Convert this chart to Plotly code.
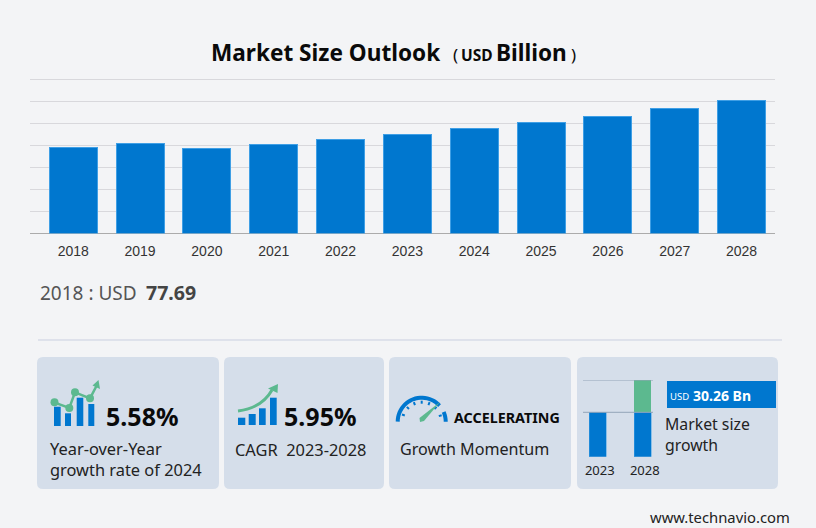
import math
import plotly.graph_objects as go

W = 816
H = 528

years = ['2018', '2019', '2020', '2021', '2022', '2023', '2024', '2025', '2026', '2027', '2028']
market_size = [77.69, 81.3, 77.4, 81.2, 85.5, 90.2, 95.2, 100.6, 106.5, 113.1, 120.46]

mini_years = ['2023', '2028']
mini_base = [90.2, 90.2]
mini_growth = [0, 30.26]

BG = '#F3F4F6'
CARD = '#D5DEEA'
BLUE = '#0077CF'
GREEN = '#5CB98F'
UI_FONT = 'Noto Sans'


def fx(px):
    return px / W


def fy(px):
    return 1 - px / H


def pts(points, close=False):
    # pixel points -> svg path in paper coords
    d = 'M ' + ' L '.join(f'{fx(x):.5f},{fy(y):.5f}' for x, y in points)
    return d + (' Z' if close else '')


def round_rect(x0, y0, x1, y1, r=6):
    return (f'M {fx(x0 + r):.5f},{fy(y0):.5f} L {fx(x1 - r):.5f},{fy(y0):.5f} '
            f'Q {fx(x1):.5f},{fy(y0):.5f} {fx(x1):.5f},{fy(y0 + r):.5f} '
            f'L {fx(x1):.5f},{fy(y1 - r):.5f} Q {fx(x1):.5f},{fy(y1):.5f} {fx(x1 - r):.5f},{fy(y1):.5f} '
            f'L {fx(x0 + r):.5f},{fy(y1):.5f} Q {fx(x0):.5f},{fy(y1):.5f} {fx(x0):.5f},{fy(y1 - r):.5f} '
            f'L {fx(x0):.5f},{fy(y0 + r):.5f} Q {fx(x0):.5f},{fy(y0):.5f} {fx(x0 + r):.5f},{fy(y0):.5f} Z')


shapes = []
annotations = []


def fill_path(d, color):
    shapes.append(dict(type='path', xref='paper', yref='paper', path=d, fillcolor=color,
                       line=dict(width=0), layer='below'))


def stroke_path(d, color, width):
    shapes.append(dict(type='path', xref='paper', yref='paper', path=d,
                       line=dict(color=color, width=width), layer='below'))


def box(x0, y0, x1, y1, color):
    fill_path(pts([(x0, y0), (x1, y0), (x1, y1), (x0, y1)], True), color)


def dot(x, y, r, color):
    shapes.append(dict(type='circle', xref='paper', yref='paper', x0=fx(x - r), x1=fx(x + r),
                       y0=fy(y - r), y1=fy(y + r), fillcolor=color, line=dict(width=0), layer='below'))


def label(x, y, text, size, color='#111111', bold=False, font=UI_FONT, anchor='left'):
    annotations.append(dict(xref='paper', yref='paper', x=fx(x), y=fy(y), text=f'<b>{text}</b>' if bold else text,
                            showarrow=False, xanchor=anchor, yanchor='middle', align='left', borderpad=0,
                            font=dict(family=font, size=size, color=color)))


# cards
for x0, x1 in [(37, 219), (224, 384), (389, 571), (577, 778)]:
    fill_path(round_rect(x0, 357, x1, 489), CARD)

# separator under the main chart
shapes.append(dict(type='line', xref='paper', yref='paper', x0=fx(38), x1=fx(782), y0=fy(340), y1=fy(340),
                   line=dict(color='#C9CFE0', width=1), layer='below'))

# yoy icon
for x0, x1, top in [(54, 60.7, 406.7), (65, 71, 413.3), (76.7, 83.3, 397.7), (88.3, 94.3, 404)]:
    box(x0, top, x1, 426, BLUE)
stroke_path(pts([(54, 402.3), (69.3, 408), (75, 392.3), (90, 398.3), (97, 385)]), GREEN, 2.5)
for x, y in [(54.5, 402.3), (69.3, 408), (75, 392.3), (90, 398.3)]:
    dot(x, y, 4, GREEN)
fill_path(pts([(98.5, 380), (100, 389), (92.5, 385.5)], True), GREEN)

# cagr icon
for x0, x1, top in [(238, 245.3, 417.7), (248.7, 255.7, 414), (259, 265.7, 408.3), (270, 276.7, 397.7)]:
    box(x0, top, x1, 425, BLUE)
stroke_path(f'M {fx(238):.5f},{fy(411):.5f} Q {fx(262):.5f},{fy(408):.5f} {fx(272):.5f},{fy(390):.5f}', GREEN, 3)
fill_path(pts([(278, 384), (277.5, 393), (268, 388.5)], True), GREEN)

# gauge icon
gx, gy, gr = 421.7, 421.7, 24
for a0, a1 in [(180, 42), (24, 0)]:
    steps = 24
    arc = [(gx + gr * math.cos(math.radians(a0 + (a1 - a0) * i / steps)),
            gy - gr * math.sin(math.radians(a0 + (a1 - a0) * i / steps))) for i in range(steps + 1)]
    stroke_path(pts(arc), BLUE, 4)
for a in [160, 135, 112, 90, 68, 45, 18]:
    c, s = math.cos(math.radians(a)), math.sin(math.radians(a))
    stroke_path(pts([(gx + 21 * c, gy - 21 * s), (gx + 18 * c, gy - 18 * s)]), BLUE, 2)
fill_path(pts([(440, 402), (424, 421), (420, 422), (419.5, 418)], True), GREEN)

# usd box in last card
box(667, 381, 776, 408, BLUE)

# title and side texts
label(210, 52, 'Market Size Outlook', 22.6, '#0A0A0A', True)
label(452, 54, '(', 17, '#0A0A0A')
label(460, 55, 'USD', 15.5, '#0A0A0A', True)
label(495, 52, 'Billion', 22.6, '#0A0A0A', True)
label(570, 54, ')', 17, '#0A0A0A')
label(39, 293, '2018 : USD', 19, '#555555')
label(145, 292, '77.69', 19.5, '#444444', True)

label(105, 416, '5.58%', 25, '#0A0A0A', True)
label(49, 458.5, 'Year-over-Year<br>growth rate of 2024', 16.4, '#222222')
label(283, 416, '5.95%', 25, '#0A0A0A', True)
label(234, 449, 'CAGR  2023-2028', 16.4, '#222222')
label(452.5, 417, 'ACCELERATING', 14.3, '#0A0A0A', True)
label(399, 449, 'Growth Momentum', 16.1, '#222222')
label(669, 396, 'USD', 9.5, '#FFFFFF')
label(692, 395, '30.26 Bn', 14, '#FFFFFF', True)
label(664, 434, 'Market size<br>growth', 15.8, '#222222')
label(649, 517, 'www.technavio.com', 14.8, '#222222')

# reference lines of the small chart
for level in [mini_base[1], mini_base[1] + mini_growth[1]]:
    shapes.append(dict(type='line', xref='paper', yref='y2', x0=fx(583), x1=fx(653), y0=level, y1=level,
                       line=dict(color='#93A4B8', width=1), layer='above'))

fig = go.Figure()
fig.add_trace(go.Bar(x=years, y=market_size, width=0.72, marker=dict(color=BLUE, line=dict(color='#3F9FE5', width=1)),
                     hoverinfo='x+y', xaxis='x', yaxis='y'))
fig.add_trace(go.Bar(x=mini_years, y=mini_base, width=0.378, marker=dict(color=BLUE, line=dict(color='#3F9FE5', width=0.5)),
                     xaxis='x2', yaxis='y2'))
fig.add_trace(go.Bar(x=mini_years, y=mini_growth, width=0.378, marker=dict(color=GREEN, line=dict(width=0)),
                     xaxis='x2', yaxis='y2'))

fig.update_layout(
    width=W,
    height=H,
    autosize=False,
    margin=dict(l=0, r=0, t=0, b=0),
    paper_bgcolor=BG,
    plot_bgcolor='rgba(0,0,0,0)',
    showlegend=False,
    barmode='stack',
    shapes=shapes,
    annotations=annotations,
    xaxis=dict(domain=[fx(30), fx(775)], type='category', range=[-0.647, 10.5], showgrid=False, ticks='',
               showline=False, zeroline=False, ticklabelstandoff=8,
               tickfont=dict(family='Liberation Sans', size=14, color='#333333')),
    # range runs past 140 so plotly keeps the top gridline
    yaxis=dict(domain=[fy(233.4), fy(77.2)], range=[0, 142], dtick=20, showticklabels=False, ticks='',
               gridcolor='#D8D8DC', gridwidth=1, zeroline=True, zerolinecolor='#ABABAB', zerolinewidth=1),
    xaxis2=dict(domain=[fx(575.3), fx(665.3)], type='category', range=[-0.5, 1.5], anchor='y2', showgrid=False,
                ticks='', showline=False, zeroline=False, ticklabelstandoff=4, ticklabelshift=2,
                tickfont=dict(family=UI_FONT, size=13, color='#222222')),
    yaxis2=dict(domain=[fy(456.7), fy(380)], range=[48.6, 120.46], anchor='x2', visible=False),
)

fig.write_html('out.html', config=dict(displayModeBar=False),
               post_script="document.body.style.margin='0';")
